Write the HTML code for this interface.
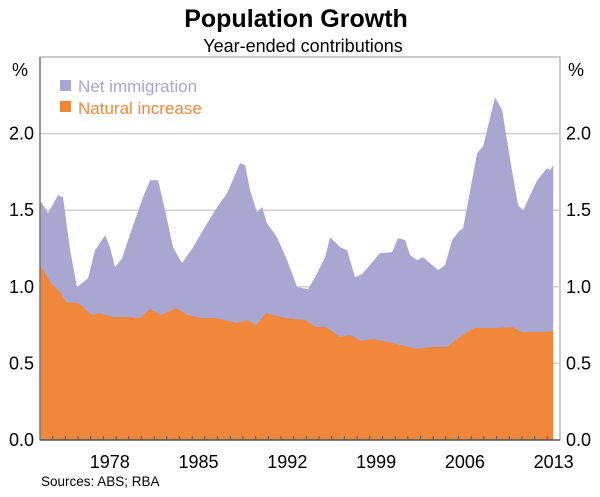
<!DOCTYPE html>
<html><head><meta charset="utf-8"><style>
body{margin:0;background:#fff;font-family:"Liberation Sans",Arial,sans-serif}
svg text{font-family:"Liberation Sans",Arial,sans-serif}
</style></head><body>
<svg id="chart" width="600" height="492" viewBox="0 0 600 492" xmlns="http://www.w3.org/2000/svg">
<text x="296" y="27" text-anchor="middle" font-size="25" font-weight="bold">Population Growth</text>
<text x="303" y="52" text-anchor="middle" font-size="18">Year-ended contributions</text>
<g id="plot"></g>
<text x="20" y="76" text-anchor="middle" font-size="18">%</text>
<text x="576" y="76" text-anchor="middle" font-size="18">%</text>
<g>
<rect x="60" y="80" width="11" height="11" fill="#a9a6d1"/>
<text x="78" y="92" font-size="17" fill="#a9a6d1">Net immigration</text>
<rect x="60" y="101" width="11" height="11" fill="#f0873a"/>
<text x="78" y="114" font-size="17" fill="#f0873a">Natural increase</text>
</g>
<text x="41" y="486" font-size="13.5">Sources: ABS; RBA</text>
</svg>
<script>
const totalYears=[1973.0,1973.16,1973.63,1974.42,1974.81,1975.37,1975.92,1976.31,1976.79,1977.34,1978.13,1978.52,1978.91,1979.47,1979.86,1981.12,1981.68,1982.31,1982.86,1983.49,1984.2,1985.07,1985.85,1986.96,1987.75,1988.77,1989.17,1989.56,1990.11,1990.51,1990.9,1991.69,1992.48,1993.27,1994.14,1994.69,1995.48,1995.87,1996.66,1997.21,1997.84,1998.39,1999.81,2000.76,2001.23,2001.79,2002.18,2002.73,2003.2,2004.39,2004.94,2005.49,2005.97,2006.36,2007.46,2007.94,2008.88,2009.44,2010.07,2010.7,2011.09,2012.2,2012.98,2013.22,2013.46];
const totalValues=[1.56,1.546,1.481,1.598,1.585,1.24,0.998,1.024,1.057,1.239,1.337,1.259,1.128,1.187,1.285,1.585,1.696,1.696,1.50,1.259,1.155,1.259,1.37,1.52,1.611,1.807,1.794,1.631,1.487,1.52,1.416,1.324,1.174,0.998,0.985,1.063,1.194,1.324,1.259,1.239,1.063,1.083,1.22,1.226,1.318,1.305,1.207,1.174,1.194,1.109,1.142,1.305,1.357,1.383,1.872,1.918,2.237,2.153,1.826,1.533,1.50,1.696,1.774,1.761,1.794];
const naturalYears=[1973.0,1973.16,1973.87,1974.66,1975.05,1976.0,1977.1,1977.65,1978.76,1980.1,1980.89,1981.68,1982.54,1983.73,1984.67,1985.78,1986.88,1988.54,1989.32,1990.03,1990.82,1992.32,1993.9,1994.77,1995.56,1996.66,1997.45,1998.32,1999.34,2000.76,2002.1,2002.65,2004.0,2005.1,2005.89,2007.23,2009.12,2010.22,2011.01,2012.43,2013.46];
const naturalValues=[1.14,1.122,1.024,0.959,0.90,0.894,0.815,0.828,0.802,0.802,0.796,0.855,0.815,0.861,0.815,0.796,0.796,0.763,0.783,0.75,0.828,0.796,0.783,0.737,0.737,0.672,0.685,0.646,0.659,0.633,0.607,0.594,0.607,0.607,0.659,0.731,0.731,0.737,0.704,0.704,0.711];
const yTicks=[0,0.5,1.0,1.5,2.0];
const yTickLabels=["0.0","0.5","1.0","1.5","2.0"];
const xLabelYears=[1978,1985,1992,1999,2006,2013];

const L=40,R=560,T=57,B=440,X0=1973,X1=2014,Y1=2.5;
const sx=y=>L+(y-X0)/(X1-X0)*(R-L);
const sy=v=>B-v/Y1*(B-T);
const NS="http://www.w3.org/2000/svg";
const plot=document.getElementById('plot');
function mk(tag,attrs,parent){const e=document.createElementNS(NS,tag);for(const k in attrs)e.setAttribute(k,attrs[k]);(parent||plot).appendChild(e);return e;}
const fr=mk('rect',{x:L,y:T,width:R-L,height:B-T,fill:'none',stroke:'#999','stroke-width':1});


yTicks.forEach((v,i)=>{
  if(v>0){const g=mk('line',{x1:L,x2:R,y1:sy(v),y2:sy(v),stroke:'#d0d0d0','stroke-width':1.5});
  
  }
  const t1=mk('text',{x:34,y:sy(v)+6,'text-anchor':'end','font-size':18});t1.textContent=yTickLabels[i];
  
  
  const t2=mk('text',{x:566,y:sy(v)+6,'text-anchor':'start','font-size':18});t2.textContent=yTickLabels[i];
  
  
});
function area(xs,vs,fill,name){
  let d='M'+sx(xs[0])+','+B;
  xs.forEach((x,i)=>{d+=' L'+sx(x).toFixed(1)+','+sy(vs[i]).toFixed(1);});
  d+=' L'+sx(xs[xs.length-1]).toFixed(1)+','+B+' Z';
  const p=mk('path',{d:d,fill:fill});
  
  
}
area(totalYears,totalValues,'#a9a6d1','net-immigration-area');
area(naturalYears,naturalValues,'#f0873a','natural-increase-area');
const ax=mk('line',{x1:L,x2:L,y1:T,y2:B,stroke:'#777','stroke-width':1.5});


const bx=mk('line',{x1:L,x2:R,y1:B,y2:B,stroke:'#555','stroke-width':1.5});


for(let y=X0+1;y<X1;y++){
  const t=mk('line',{x1:sx(y),x2:sx(y),y1:B,y2:B-4,stroke:'#555','stroke-width':1});
  
  
}
xLabelYears.forEach(y=>{
  const t=mk('text',{x:Math.min(sx(y+0.5),555),y:468,'text-anchor':'middle','font-size':18});t.textContent=y;
  
  
});
</script>
</body></html>
